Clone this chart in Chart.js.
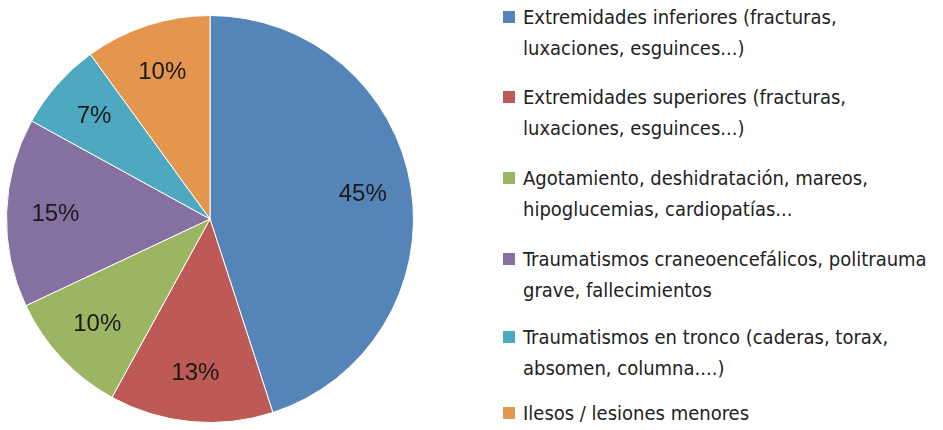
<!DOCTYPE html>
<html>
<head>
<meta charset="utf-8">
<script src="https://cdn.jsdelivr.net/npm/chart.js@4"></script>
<style>
  html, body { margin: 0; padding: 0; background: #fff; }
  #wrap { position: relative; width: 943px; height: 430px; overflow: hidden; }
  #pieBox { position: absolute; left: 0; top: 0; width: 420px; height: 430px; }
  #legend { position: absolute; left: 503px; top: 0; width: 440px;
            font-family: "Liberation Sans Narrow", "DejaVu Sans Condensed", "Liberation Sans", sans-serif;
            font-size: 20px; color: #222; }
  .item { position: absolute; left: 0; }
  .swatch { position: absolute; left: 0; top: 9px; width: 12px; height: 12px; }
  .txt { position: absolute; left: 20px; line-height: 31px; white-space: nowrap; }
</style>
</head>
<body>
<div id="wrap">
  <div id="pieBox"><canvas id="pie"></canvas></div>
  <div id="legend"></div>
</div>
<script>
// Injury categories (each entry holds the lines of its legend text)
const categories = [
  ["Extremidades inferiores (fracturas,", "luxaciones, esguinces...)"],
  ["Extremidades superiores (fracturas,", "luxaciones, esguinces...)"],
  ["Agotamiento, deshidratación, mareos,", "hipoglucemias, cardiopatías..."],
  ["Traumatismos craneoencefálicos, politrauma", "grave, fallecimientos"],
  ["Traumatismos en tronco (caderas, torax,", "absomen, columna....)"],
  ["Ilesos / lesiones menores"]
];
// Share of cases, percent
const shares = [45, 13, 10, 15, 7, 10];
const sliceColors = ["#5585B8", "#BD5A55", "#9CB562", "#8670A1", "#4EA8BF", "#E4964F"];
// Top of each legend entry, px
const legendTops = [2, 82, 163, 244, 322, 398];

// Percent labels inside the slices
const sliceLabels = {
  id: "sliceLabels",
  afterDatasetsDraw(chart) {
    const ctx = chart.ctx;
    const meta = chart.getDatasetMeta(0);
    ctx.save();
    ctx.font = "24px 'Liberation Sans', Arial, sans-serif";
    ctx.fillStyle = "#1a1a1a";
    ctx.textAlign = "center";
    ctx.textBaseline = "middle";
    meta.data.forEach((arc, i) => {
      const p = arc.getProps(["x", "y", "startAngle", "endAngle", "outerRadius"], true);
      const mid = (p.startAngle + p.endAngle) / 2;
      const r = p.outerRadius * 0.76;
      ctx.fillText(shares[i] + "%", p.x + Math.cos(mid) * r, p.y + Math.sin(mid) * r);
    });
    ctx.restore();
  }
};

new Chart(document.getElementById("pie"), {
  type: "pie",
  data: {
    labels: categories.map(l => l.join(" ")),
    datasets: [{
      data: shares,
      backgroundColor: sliceColors,
      borderColor: "#ffffff",
      borderWidth: 1
    }]
  },
  options: {
    responsive: true,
    maintainAspectRatio: false,
    animation: false,
    layout: { padding: { top: 10, bottom: 2, left: 6, right: 6 } },
    plugins: { legend: { display: false }, tooltip: { enabled: false } }
  },
  plugins: [sliceLabels]
});

// Legend built from the same arrays
const legend = document.getElementById("legend");
categories.forEach((lines, i) => {
  const item = document.createElement("div");
  item.className = "item";
  item.style.top = legendTops[i] + "px";
  const sw = document.createElement("div");
  sw.className = "swatch";
  sw.style.background = sliceColors[i];
  const tx = document.createElement("div");
  tx.className = "txt";
  tx.innerHTML = lines.join("<br>");
  item.appendChild(sw);
  item.appendChild(tx);
  legend.appendChild(item);
});
</script>
</body>
</html>
